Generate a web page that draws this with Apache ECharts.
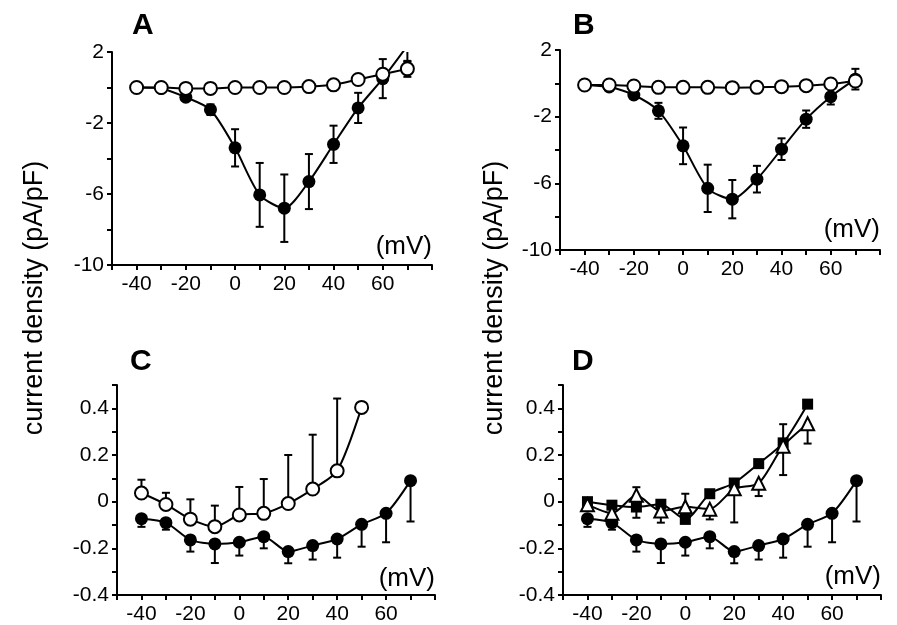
<!DOCTYPE html>
<html>
<head>
<meta charset="utf-8">
<script src="https://cdn.jsdelivr.net/npm/echarts@6/dist/echarts.min.js"></script>
<style>html,body{margin:0;padding:0;background:#fff}#c{width:897px;height:625px}</style>
</head>
<body>
<div id="c"></div>
<script>
// ---- data ----
const voltages = [-40, -30, -20, -10, 0, 10, 20, 30, 40, 50, 60, 70];
const voltagesTo50 = [-40, -30, -20, -10, 0, 10, 20, 30, 40, 50];

// Panel A
const aOpen = [0, 0, -0.05, -0.05, 0, 0, 0, 0.05, 0.15, 0.45, 0.75, 1.05];
const aOpenErr = [0.05, 0.05, 0.05, 0.05, 0.05, 0.05, 0.05, 0.05, 0.1, 0.2, 0.3, 0.45];
const aFilled = [0, -0.05, -0.55, -1.25, -3.4, -6.05, -6.8, -5.3, -3.2, -1.15, 0.5, 2.35];
const aFilledErr = [0.05, 0.05, 0.15, 0.3, 1.05, 1.8, 1.9, 1.55, 1.05, 0.85, 1.1, 0.9];

// Panel B
const bOpen = [-0.1, -0.1, -0.16, -0.24, -0.24, -0.24, -0.26, -0.24, -0.2, -0.14, -0.04, 0.14];
const bOpenErr = [0.05, 0.05, 0.05, 0.05, 0.05, 0.05, 0.05, 0.05, 0.05, 0.05, 0.05, 0.3];
const bFilled = [-0.1, -0.22, -0.7, -1.65, -3.75, -6.3, -6.95, -5.75, -3.95, -2.15, -0.8, 0.25];
const bFilledErr = [0.05, 0.05, 0.15, 0.48, 1.1, 1.42, 1.15, 0.8, 0.65, 0.52, 0.47, 0.62];

// Panel C (and filled circles in D)
const cOpen = [0.037, -0.012, -0.075, -0.107, -0.057, -0.05, -0.008, 0.054, 0.132, 0.404];
const cOpenErrUp = [0.057, 0.05, 0.085, 0.09, 0.12, 0.147, 0.208, 0.233, 0.31, 0];
const cFilled = [-0.073, -0.09, -0.164, -0.181, -0.174, -0.15, -0.214, -0.188, -0.16, -0.097, -0.05, 0.09];
const cFilledErrDown = [0.035, 0.03, 0.05, 0.082, 0.057, 0.05, 0.05, 0.06, 0.08, 0.096, 0.124, 0.175];

// Panel D
const dSquare = [0, -0.015, -0.023, -0.011, -0.076, 0.034, 0.08, 0.163, 0.252, 0.418];
const dSquareErrUp = [0, 0, 0, 0, 0, 0, 0, 0, 0.08, 0];
const dSquareErrDown = [0, 0, 0.046, 0, 0, 0, 0, 0, 0, 0];
const dTriangle = [-0.013, -0.05, 0.027, -0.04, -0.022, -0.032, 0.055, 0.079, 0.238, 0.334];
const dTriangleErrUp = [0, 0, 0.035, 0, 0.056, 0, 0, 0, 0, 0];
const dTriangleErrDown = [0, 0, 0, 0.05, 0, 0.044, 0.144, 0.055, 0.124, 0.085];

// tick labels
const xTickLabels = [-40, -20, 0, 20, 40, 60];
const yTickLabelsTop = [-10, -6, -2, 2];
const yTickLabelsBottom = [-0.4, -0.2, 0, 0.2, 0.4];
const panelLetters = ['A', 'B', 'C', 'D'];
const yTitle = 'current density (pA/pF)';
const xUnit = '(mV)';

// ---- chart ----
const FONT = '"Liberation Sans", Arial, Helvetica, sans-serif';
const BLACK = '#000';

const grids = [
  {left: 112, top: 52, width: 320, height: 213},
  {left: 560, top: 50, width: 320, height: 200},
  {left: 117, top: 385, width: 318, height: 213},
  {left: 563, top: 385, width: 318, height: 213}
];

function axisCommon() {
  return {
    axisLine: {show: true, onZero: false, lineStyle: {color: BLACK, width: 2}},
    axisTick: {show: true, inside: false, length: 5, lineStyle: {color: BLACK, width: 2}},
    splitLine: {show: false}
  };
}
function xAx(gi) {
  return Object.assign(axisCommon(), {
    type: 'value', gridIndex: gi, min: -50, max: 80, interval: 10,
    axisLabel: {margin: 9, color: BLACK, fontSize: 21, fontFamily: FONT,
      formatter: v => xTickLabels.indexOf(Math.round(v)) >= 0 ? String(Math.round(v)) : ''}
  });
}
function yAxTop(gi) {
  return Object.assign(axisCommon(), {
    type: 'value', gridIndex: gi, min: -10, max: 2, interval: 2,
    axisLabel: {margin: 8, color: BLACK, fontSize: 21, fontFamily: FONT,
      formatter: v => yTickLabelsTop.indexOf(Math.round(v)) >= 0 ? String(Math.round(v)) : ''}
  });
}
function yAxBottom(gi) {
  return Object.assign(axisCommon(), {
    type: 'value', gridIndex: gi, min: -0.4, max: 0.5, interval: 0.1,
    axisLabel: {margin: 8, color: BLACK, fontSize: 21, fontFamily: FONT,
      formatter: v => {
        const n = Math.round(v * 10) / 10;
        return yTickLabelsBottom.some(t => Math.abs(t - n) < 1e-9) ? String(n) : '';
      }}
  });
}

function pairs(xs, ys) { return ys.map((y, i) => [xs[i], y]); }
function errData(xs, ys, up, down) {
  const out = [];
  ys.forEach((y, i) => {
    const u = up ? up[i] : 0, d = down ? down[i] : 0;
    if (u > 0 || d > 0) out.push([xs[i], y - d, y + u, d > 0 ? 1 : 0, u > 0 ? 1 : 0]);
  });
  return out;
}
function renderErr(params, api) {
  const x = api.value(0);
  const pLo = api.coord([x, api.value(1)]);
  const pHi = api.coord([x, api.value(2)]);
  const w = 4;
  const st = {stroke: BLACK, lineWidth: 2};
  const ch = [{type: 'line', shape: {x1: pLo[0], y1: pLo[1], x2: pHi[0], y2: pHi[1]}, style: st}];
  if (api.value(3)) ch.push({type: 'line', shape: {x1: pLo[0] - w, y1: pLo[1], x2: pLo[0] + w, y2: pLo[1]}, style: st});
  if (api.value(4)) ch.push({type: 'line', shape: {x1: pHi[0] - w, y1: pHi[1], x2: pHi[0] + w, y2: pHi[1]}, style: st});
  return {type: 'group', children: ch};
}
function errSeries(gi, data) {
  return {type: 'custom', xAxisIndex: gi, yAxisIndex: gi, renderItem: renderErr, data: data,
    clip: true, z: 1, silent: true, animation: false};
}
function lineSeries(gi, data, kind) {
  const filled = kind === 'filled' || kind === 'square';
  return {
    type: 'line', xAxisIndex: gi, yAxisIndex: gi, data: data,
    smooth: 0.25, clip: true, z: 3, animation: false,
    symbol: kind === 'square' ? 'rect' : (kind === 'triangle' ? 'triangle' : 'circle'),
    symbolSize: kind === 'square' ? 11 : (kind === 'triangle' ? 13 : 13),
    showAllSymbol: true,
    lineStyle: {color: BLACK, width: 2},
    itemStyle: {color: filled ? BLACK : '#fff', borderColor: BLACK, borderWidth: filled ? 0 : 2, opacity: 1}
  };
}

const series = [
  // A
  errSeries(0, errData(voltages, aFilled, aFilledErr, aFilledErr)),
  errSeries(0, errData(voltages, aOpen, aOpenErr, aOpenErr)),
  lineSeries(0, pairs(voltages, aFilled), 'filled'),
  lineSeries(0, pairs(voltages, aOpen), 'open'),
  // B
  errSeries(1, errData(voltages, bFilled, bFilledErr, bFilledErr)),
  errSeries(1, errData(voltages, bOpen, bOpenErr, bOpenErr)),
  lineSeries(1, pairs(voltages, bFilled), 'filled'),
  lineSeries(1, pairs(voltages, bOpen), 'open'),
  // C
  errSeries(2, errData(voltages, cFilled, null, cFilledErrDown)),
  errSeries(2, errData(voltagesTo50, cOpen, cOpenErrUp, null)),
  lineSeries(2, pairs(voltages, cFilled), 'filled'),
  lineSeries(2, pairs(voltagesTo50, cOpen), 'open'),
  // D
  errSeries(3, errData(voltages, cFilled, null, cFilledErrDown)),
  errSeries(3, errData(voltagesTo50, dSquare, dSquareErrUp, dSquareErrDown)),
  errSeries(3, errData(voltagesTo50, dTriangle, dTriangleErrUp, dTriangleErrDown)),
  lineSeries(3, pairs(voltages, cFilled), 'filled'),
  lineSeries(3, pairs(voltagesTo50, dSquare), 'square'),
  lineSeries(3, pairs(voltagesTo50, dTriangle), 'triangle')
];

function txt(x, y, text, font, align, rot) {
  const el = {type: 'text', x: x, y: y, z: 10,
    style: {text: text, font: font, fill: BLACK, align: align || 'left', verticalAlign: 'middle'}};
  if (rot) el.rotation = rot;
  return el;
}
const letterPos = [[132, 26], [573, 26], [130, 362], [572, 362]];
const unitPos = [[432, 247], [880, 230], [435, 579], [881, 577]];

const graphic = [];
panelLetters.forEach((l, i) => graphic.push(txt(letterPos[i][0], letterPos[i][1], l, 'bold 30px ' + FONT)));
unitPos.forEach(p => graphic.push(txt(p[0], p[1], xUnit, '26px ' + FONT, 'right')));
graphic.push(txt(35, 298, yTitle, '27px ' + FONT, 'center', Math.PI / 2));
graphic.push(txt(495, 298, yTitle, '27px ' + FONT, 'center', Math.PI / 2));

const chart = echarts.init(document.getElementById('c'), null, {renderer: 'canvas'});
chart.setOption({
  backgroundColor: '#fff',
  animation: false,
  grid: grids,
  xAxis: [xAx(0), xAx(1), xAx(2), xAx(3)],
  yAxis: [yAxTop(0), yAxTop(1), yAxBottom(2), yAxBottom(3)],
  series: series,
  graphic: graphic
});
</script>
</body>
</html>
